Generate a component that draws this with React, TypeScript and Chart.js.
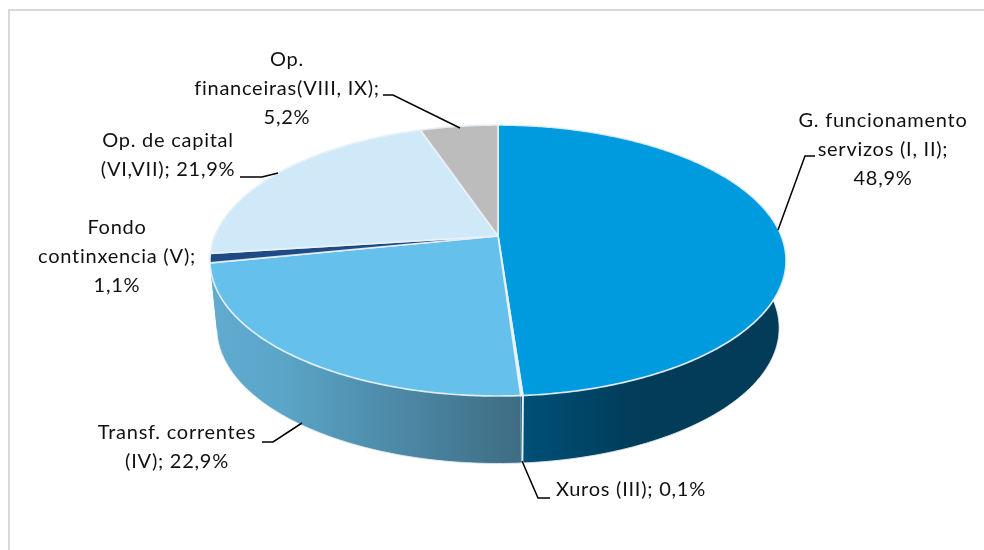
import React, { useEffect, useRef } from "react";
import { Chart, registerables } from "chart.js";

Chart.register(...registerables);

const categories = [
  "G. funcionamento servizos (I, II)",
  "Xuros (III)",
  "Transf. correntes (IV)",
  "Fondo continxencia (V)",
  "Op. de capital (VI,VII)",
  "Op. financeiras(VIII, IX)",
];
const shares = [48.9, 0.1, 22.9, 1.1, 21.9, 5.2];
const faceColours = ["#009bde", "#eef6fa", "#65c1ec", "#1e4a85", "#cfe9f9", "#bcbcbc"];

// Text lines of each data label; the last piece of text is the formatted value.
const labelLines = [
  ["G. funcionamento", "servizos (I, II);", "@"],
  ["Xuros (III); @"],
  ["Transf. correntes", "(IV); @"],
  ["Fondo", "continxencia (V);", "@"],
  ["Op. de capital", "(VI,VII); @"],
  ["Op.", "financeiras(VIII, IX);", "@"],
];
const labelAnchors: [number, number][] = [
  [883, 121], [631, 490], [177, 433], [117, 228], [168, 141], [287, 60],
];
const leaderLines: [number, number][][] = [
  [[815, 156], [805, 156], [778, 230]],
  [[550, 498], [538, 498], [522, 461]],
  [[262, 442], [273, 442], [302, 423]],
  [],
  [[240, 177], [262, 177], [278, 173]],
  [[383, 95], [393, 95], [460, 128]],
];

const fmt = (v: number) => v.toFixed(1).replace(".", ",") + "%";

// Perspective projection of the unit disc on the page
const CX = 498, CY = 236, PX = 283.3, PY = 88.4, PERSP = -0.1808;
const ELL_CY = 260.5, BOTTOM_SX = 0.976, BOTTOM_DY = 67.5, BOTTOM_SY = 1;

const topPoint = (a: number): [number, number] => {
  const u = Math.cos(a), v = Math.sin(a);
  const w = 1 + PERSP * v;
  return [CX + (PX * u) / w, (PY * v + CY) / w];
};
const bottomPoint = (a: number): [number, number] => {
  const [x, y] = topPoint(a);
  return [CX + (x - CX) * BOTTOM_SX, ELL_CY + BOTTOM_DY + (y - ELL_CY) * BOTTOM_SY];
};
const arcAngles = (s: number, e: number) => {
  const n = Math.max(2, Math.ceil((e - s) / 0.01));
  return Array.from({ length: n + 1 }, (_, i) => s + ((e - s) * i) / n);
};

const pie3d = {
  id: "pie3d",
  beforeDatasetsDraw(chart: any) {
    const ctx: CanvasRenderingContext2D = chart.ctx;
    const arcs = chart.getDatasetMeta(0).data;
    ctx.save();

    // frame
    ctx.strokeStyle = "#d9d9d9";
    ctx.lineWidth = 2;
    ctx.beginPath();
    ctx.moveTo(9, 560);
    ctx.lineTo(9, 10);
    ctx.lineTo(990, 10);
    ctx.stroke();

    // side walls
    const sideGradient = (i: number) => {
      const g = ctx.createLinearGradient(212, 0, 786, 0);
      if (i >= 2) {
        g.addColorStop(0, "#60abcf");
        g.addColorStop(0.12, "#5aa5c8");
        g.addColorStop(0.54, "#3e6c83");
        g.addColorStop(1, "#3e6c83");
      } else {
        g.addColorStop(0, "#005078");
        g.addColorStop(0.54, "#005078");
        g.addColorStop(0.74, "#023c58");
        g.addColorStop(1, "#023c58");
      }
      return g;
    };
    [0, 1, 5, 4, 3, 2].forEach((i) => {
      const arc = arcs[i];
      const angles = arcAngles(arc.startAngle, arc.endAngle);
      ctx.beginPath();
      angles.forEach((a, k) => {
        const p = topPoint(a);
        k ? ctx.lineTo(p[0], p[1]) : ctx.moveTo(p[0], p[1]);
      });
      [...angles].reverse().forEach((a) => {
        const p = bottomPoint(a);
        ctx.lineTo(p[0], p[1]);
      });
      ctx.closePath();
      ctx.fillStyle = sideGradient(i);
      ctx.fill();
    });
    // rim of the visible walls
    arcs.slice(0, 3).forEach((arc: any) => {
      ctx.beginPath();
      arcAngles(arc.startAngle, arc.endAngle).forEach((a, k) => {
        const p = bottomPoint(a);
        k ? ctx.lineTo(p[0], p[1]) : ctx.moveTo(p[0], p[1]);
      });
      ctx.strokeStyle = "rgba(225,232,236,0.9)";
      ctx.lineWidth = 1;
      ctx.stroke();
    });
    // wall divider
    const dividerAngle = arcs[1].startAngle;
    const d0 = topPoint(dividerAngle), d1 = bottomPoint(dividerAngle);
    ctx.beginPath();
    ctx.moveTo(d0[0], d0[1]);
    ctx.lineTo(d1[0], d1[1]);
    ctx.strokeStyle = "#e8f1f5";
    ctx.lineWidth = 2;
    ctx.stroke();

    // top faces
    arcs.forEach((arc: any, i: number) => {
      ctx.beginPath();
      ctx.moveTo(CX, CY);
      arcAngles(arc.startAngle, arc.endAngle).forEach((a) => {
        const p = topPoint(a);
        ctx.lineTo(p[0], p[1]);
      });
      ctx.closePath();
      ctx.fillStyle = faceColours[i];
      ctx.fill();
      ctx.strokeStyle = "rgba(236,243,247,0.9)";
      ctx.lineWidth = 1.7;
      ctx.lineJoin = "round";
      ctx.stroke();
    });

    // leader lines
    ctx.strokeStyle = "#000000";
    ctx.lineWidth = 1.5;
    ctx.lineJoin = "miter";
    leaderLines.forEach((line) => {
      if (!line.length) return;
      ctx.beginPath();
      line.forEach((p, k) => (k ? ctx.lineTo(p[0], p[1]) : ctx.moveTo(p[0], p[1])));
      ctx.stroke();
    });

    // data labels
    ctx.fillStyle = "#111111";
    ctx.font = "20px Lato";
    (ctx as any).letterSpacing = "0.75px";
    ctx.textAlign = "center";
    ctx.textBaseline = "middle";
    labelLines.forEach((lines, i) => {
      lines.forEach((t, k) => {
        ctx.fillText(t.replace("@", fmt(shares[i])), labelAnchors[i][0], labelAnchors[i][1] + k * 28.6);
      });
    });
    ctx.restore();
    return false;
  },
};

export default function App() {
  const ref = useRef<HTMLCanvasElement>(null);
  useEffect(() => {
    document.body.style.margin = "0";
    const chart = new Chart(ref.current!, {
      type: "pie",
      data: {
        labels: categories,
        datasets: [{ data: shares, backgroundColor: faceColours, borderWidth: 0 }],
      },
      options: {
        responsive: false,
        animation: false,
        plugins: { legend: { display: false }, tooltip: { enabled: false } },
      },
      plugins: [pie3d],
    } as any);
    return () => chart.destroy();
  }, []);
  return <canvas ref={ref} width={984} height={550} style={{ display: "block" }} />;
}
